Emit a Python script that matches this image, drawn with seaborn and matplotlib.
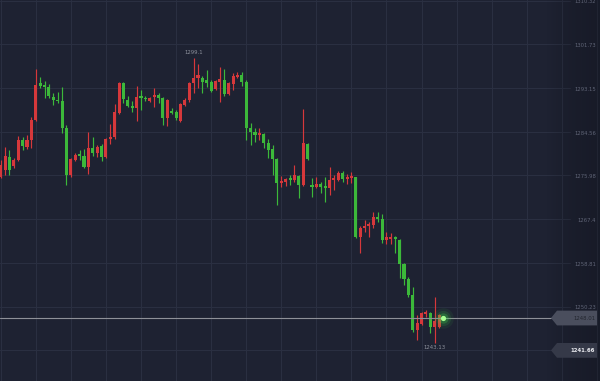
import matplotlib
matplotlib.use("Agg")
import matplotlib.pyplot as plt
import matplotlib.transforms as mtransforms
from matplotlib.patches import Polygon
import numpy as np
import pandas as pd
import seaborn as sns

# ---------------- data ----------------
opens = [1275.63, 1277.00, 1279.55, 1277.78, 1278.96, 1282.88, 1281.51, 1282.88, 1286.80, 1294.05,
         1293.66, 1293.27, 1291.31, 1290.72, 1290.52, 1285.23, 1276.02, 1278.96, 1280.14, 1279.74,
         1277.59, 1281.31, 1280.33, 1281.70, 1279.55, 1283.08, 1283.47, 1288.17, 1294.05, 1290.72,
         1289.54, 1289.15, 1291.50, 1291.11, 1290.52, 1291.31, 1291.70, 1291.11, 1287.19, 1288.56,
         1288.37, 1286.60, 1289.74, 1290.72, 1294.05, 1295.03, 1295.03, 1294.64, 1294.25, 1292.88,
         1294.25, 1294.64, 1291.90, 1293.86, 1295.23, 1295.62, 1294.25, 1285.23, 1284.45, 1283.86,
         1284.06, 1282.29, 1281.12, 1279.16, 1274.45, 1274.65, 1275.43, 1275.04, 1275.92, 1274.06,
         1282.10, 1274.06, 1273.67, 1274.26, 1273.86, 1273.47, 1275.04, 1275.04, 1276.41, 1275.24,
         1275.43, 1275.63, 1263.87, 1265.63, 1266.02, 1266.22, 1267.79, 1267.40, 1263.28, 1263.48,
         1263.87, 1263.28, 1258.58, 1255.64, 1252.50, 1245.64, 1246.82, 1248.78, 1248.97, 1246.23,
         1246.23, 1248.30]
highs = [1278.96, 1281.51, 1280.92, 1279.35, 1283.66, 1283.47, 1283.86, 1287.39, 1296.80, 1295.23,
         1294.44, 1293.86, 1292.09, 1292.29, 1293.27, 1285.82, 1279.35, 1280.33, 1280.92, 1281.12,
         1284.45, 1283.47, 1281.90, 1282.10, 1283.27, 1286.02, 1289.94, 1294.25, 1294.25, 1291.50,
         1290.52, 1293.46, 1292.68, 1291.50, 1291.31, 1293.07, 1292.09, 1291.31, 1290.92, 1289.15,
         1288.76, 1290.13, 1291.11, 1294.25, 1299.10, 1297.78, 1295.42, 1296.60, 1294.64, 1294.64,
         1297.19, 1296.80, 1294.25, 1296.01, 1296.21, 1296.21, 1294.64, 1286.21, 1285.23, 1285.23,
         1284.25, 1283.08, 1281.90, 1279.35, 1275.82, 1275.43, 1276.02, 1277.98, 1276.02, 1288.96,
         1282.29, 1275.43, 1275.63, 1274.65, 1275.63, 1277.59, 1276.02, 1276.80, 1276.80, 1276.22,
         1276.61, 1275.73, 1266.02, 1267.20, 1266.81, 1268.77, 1268.77, 1268.38, 1264.85, 1264.65,
         1264.06, 1263.48, 1258.77, 1256.03, 1254.07, 1248.58, 1249.17, 1249.56, 1249.17, 1252.11,
         1248.78, 1248.50]
lows = [1275.43, 1276.02, 1276.02, 1277.39, 1278.76, 1280.92, 1281.12, 1281.31, 1286.60, 1293.07,
        1291.11, 1291.11, 1289.74, 1290.13, 1284.25, 1274.06, 1275.63, 1278.76, 1278.96, 1277.39,
        1276.22, 1279.74, 1279.55, 1278.76, 1279.35, 1282.10, 1283.08, 1287.98, 1290.13, 1289.35,
        1288.37, 1286.60, 1288.76, 1290.52, 1290.33, 1289.35, 1290.13, 1285.82, 1285.62, 1287.98,
        1286.80, 1286.41, 1289.54, 1290.33, 1292.09, 1293.07, 1292.09, 1293.27, 1292.29, 1292.68,
        1290.33, 1291.50, 1291.70, 1292.68, 1295.03, 1293.46, 1282.88, 1281.90, 1282.49, 1282.88,
        1281.31, 1279.35, 1276.02, 1270.14, 1273.67, 1273.86, 1274.06, 1274.65, 1271.51, 1273.86,
        1278.96, 1271.71, 1273.47, 1272.49, 1270.73, 1272.10, 1273.08, 1274.84, 1274.65, 1274.26,
        1274.45, 1263.67, 1260.73, 1264.85, 1263.87, 1265.63, 1266.81, 1262.69, 1262.50, 1262.50,
        1260.73, 1255.83, 1254.46, 1252.11, 1245.25, 1243.68, 1246.62, 1248.19, 1245.05, 1243.13,
        1246.03, 1247.90]
closes = [1277.98, 1279.74, 1277.00, 1278.96, 1282.88, 1281.70, 1282.88, 1286.80, 1293.66, 1293.46,
          1293.37, 1291.50, 1290.72, 1290.52, 1285.23, 1276.02, 1279.16, 1279.94, 1279.74, 1277.59,
          1281.31, 1280.33, 1281.51, 1279.55, 1283.08, 1283.47, 1288.37, 1294.05, 1290.92, 1289.54,
          1289.15, 1291.31, 1291.11, 1290.92, 1291.11, 1291.70, 1291.11, 1287.19, 1290.72, 1288.17,
          1287.19, 1289.94, 1290.72, 1294.05, 1295.03, 1295.62, 1294.25, 1294.05, 1292.48, 1294.44,
          1294.84, 1291.90, 1294.05, 1295.42, 1295.62, 1294.25, 1285.23, 1284.45, 1283.86, 1284.25,
          1282.29, 1280.92, 1279.16, 1274.45, 1274.84, 1275.24, 1275.04, 1276.02, 1274.06, 1282.29,
          1279.16, 1273.67, 1274.26, 1273.67, 1273.47, 1275.04, 1275.43, 1276.41, 1275.24, 1275.63,
          1275.82, 1263.87, 1265.63, 1266.02, 1266.42, 1267.79, 1267.40, 1263.28, 1263.87, 1263.87,
          1263.48, 1258.58, 1255.64, 1252.50, 1245.64, 1247.01, 1248.97, 1249.17, 1246.23, 1247.40,
          1248.58, 1248.01]

grid_labels = ["1310.32", "1301.73", "1293.15", "1284.56", "1275.98",
               "1267.4", "1258.81", "1250.23", "1241.66"]
current_price = 1248.01
bottom_tag = 1241.66
high_label = "1299.1"
low_label = "1243.13"

# ---------------- style ----------------
BG = "#1e2232"
GRID = "#2a2f41"
UP = "#d6383b"
DOWN = "#3cb83a"
LABEL = "#5f6476"

sns.set_theme(style="dark", rc={"axes.facecolor": BG, "figure.facecolor": BG})
plt.rcParams["font.family"] = ["DejaVu Sans"]

df = pd.DataFrame({"o": opens, "h": highs, "l": lows, "c": closes})
df["i"] = np.arange(len(df))
df["up"] = df["c"] >= df["o"]
df["color"] = np.where(df["up"], UP, DOWN)

fig = plt.figure(figsize=(6.0, 3.81), dpi=100)
ax = fig.add_axes([0, 0, 1, 1])
ax.set_facecolor(BG)

ax.set_xlim(-0.16, 136.7)
ax.set_ylim(1235.65, 1310.42)

# grid
grid_vals = [float(s) for s in grid_labels]
for v in grid_vals:
    ax.axhline(v, xmin=0, xmax=0.95, color=GRID, lw=0.8, zorder=0)
for gx in range(0, 137, 8):
    ax.axvline(gx, color=GRID, lw=0.8, zorder=0)

# wicks
ax.vlines(df["i"], df["l"], df["h"], colors=df["color"], lw=0.85, zorder=2)
# bodies
body_bottom = np.minimum(df["o"], df["c"])
body_h = np.maximum(np.abs(df["c"] - df["o"]), 0.3)
ax.bar(df["i"], body_h, bottom=body_bottom, width=0.7, color=df["color"],
       linewidth=0, zorder=3)

# current price line
ax.axhline(current_price, xmin=0, xmax=551 / 600, color="#8e9098", lw=0.8, zorder=4)

# right-side shading
grad = np.linspace(0, 1, 100).reshape(1, -1)
ax.imshow(grad, extent=(0.91, 1.0, 0, 1), transform=ax.transAxes, aspect="auto",
          cmap=matplotlib.colors.LinearSegmentedColormap.from_list(
              "sh", [(0, 0, 0, 0), (0.05, 0.06, 0.09, 0.35)]), zorder=1)

# axis labels
blend = mtransforms.blended_transform_factory(ax.transAxes, ax.transData)
for s, v in zip(grid_labels[:-1], grid_vals[:-1]):
    ax.text(0.993, v - 0.25, s, transform=blend, ha="right", va="center",
            fontsize=3.8, color=LABEL, zorder=6)

# price tags
def tag(value, face, tcolor, weight):
    hh = 1.45
    pts = [(551 / 600, value), (557 / 600, value + hh), (597 / 600, value + hh),
           (597 / 600, value - hh), (557 / 600, value - hh)]
    ax.add_patch(Polygon(pts, closed=True, transform=blend, facecolor=face,
                         edgecolor="none", zorder=7))
    ax.text(0.992, value, f"{value:.2f}", transform=blend, ha="right", va="center",
            fontsize=3.9, color=tcolor, fontweight=weight, zorder=8)

tag(current_price, "#4a4e5d", "#23262f", "normal")
tag(bottom_tag, "#353948", "#e8e9ee", "bold")

# glow at last price
last = len(df) - 1
for s, a in zip([220, 120, 55], [0.07, 0.13, 0.25]):
    ax.scatter([last], [current_price], s=s, color="#3ee04a", alpha=a,
               linewidths=0, zorder=9)
sns.scatterplot(x=[last], y=[current_price], s=14, color="#a6ff92", linewidth=0,
                ax=ax, zorder=10, legend=False)

# high / low labels
hi_i = int(np.argmax(df["h"]))
lo_i = int(np.argmin(df["l"]))
ax.text(hi_i, df["h"][hi_i] + 0.6, high_label, ha="center", va="bottom",
        fontsize=3.9, color="#8d919c", zorder=6)
ax.text(lo_i, df["l"][lo_i] - 0.5, low_label, ha="center", va="top",
        fontsize=3.9, color="#8d919c", zorder=6)

ax.set_xticks([])
ax.set_yticks([])
ax.set_xlabel("")
ax.set_ylabel("")
for sp in ax.spines.values():
    sp.set_visible(False)

fig.savefig("out.png", dpi=100, facecolor=BG)
